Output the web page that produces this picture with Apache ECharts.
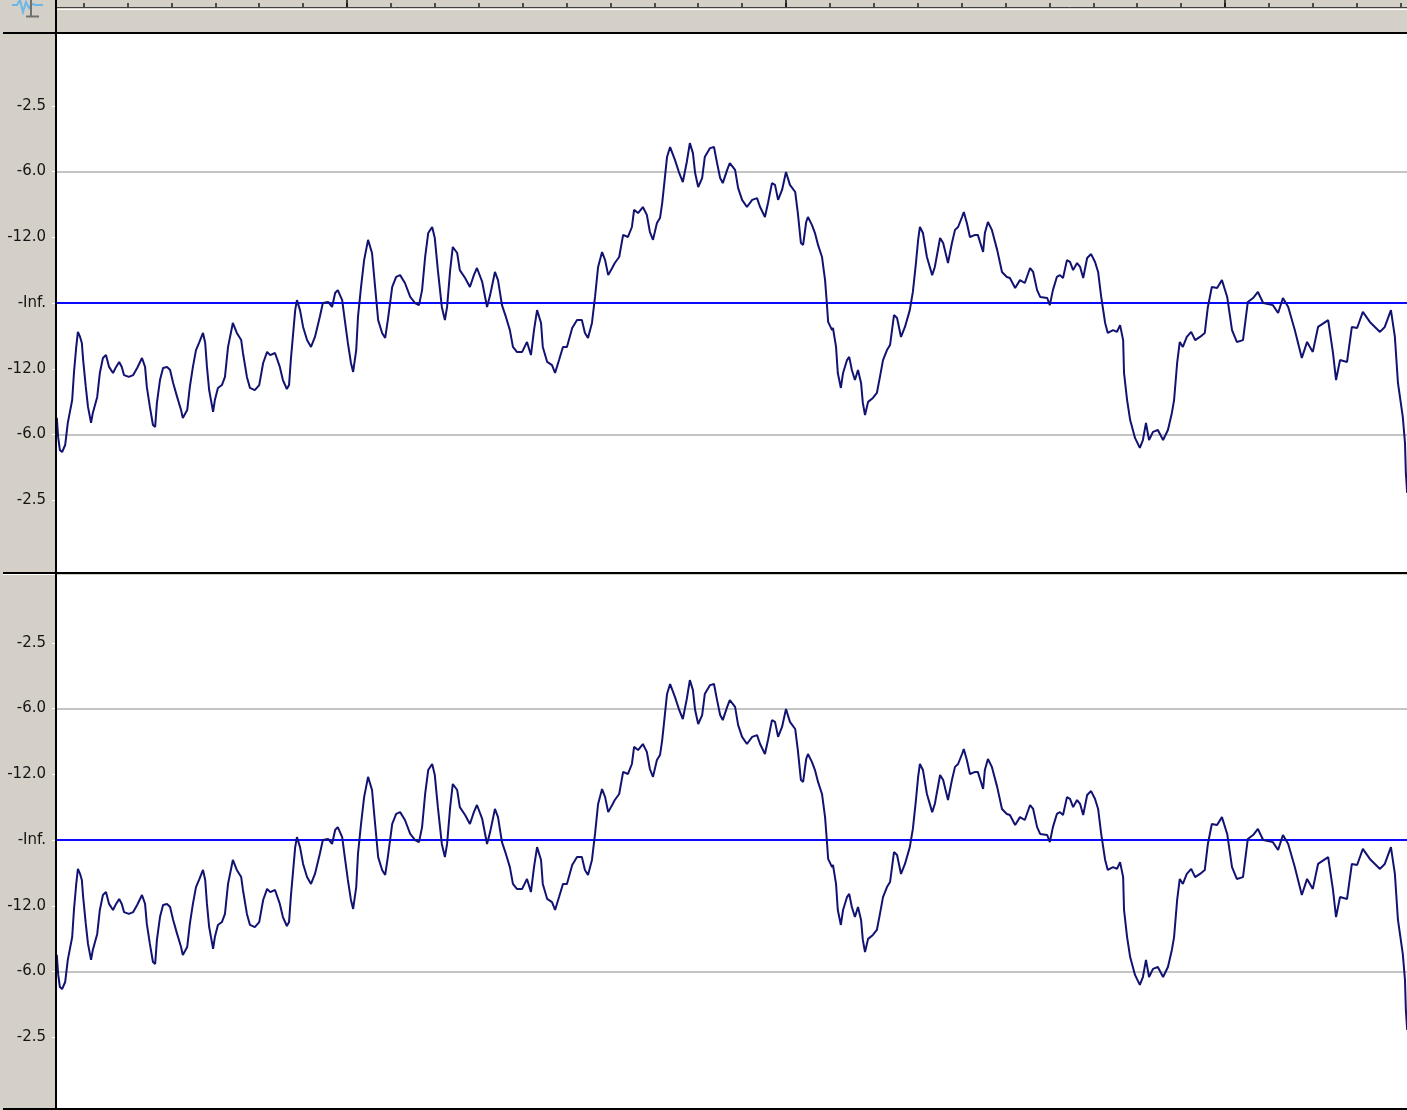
<!DOCTYPE html>
<html><head><meta charset="utf-8">
<script src="https://cdn.jsdelivr.net/npm/echarts@6/dist/echarts.min.js"></script>
<style>html,body{margin:0;padding:0;background:#d4d0c8}#c{width:1407px;height:1110px}</style>
</head><body><div id="c"></div>
<script>
// time (s) of each traced waveform point
const waveTime = [
0.339,0.342,0.346,0.351,0.358,0.364,0.374,0.378,0.383,0.387,0.392,0.396,0.399,0.405,0.410,0.417,0.421,0.431,0.437,0.444,
0.451,0.458,0.467,0.474,0.481,0.487,0.492,0.503,0.513,0.522,0.533,0.540,0.544,0.551,0.558,0.563,0.567,0.574,0.581,0.590,
0.597,0.604,0.613,0.622,0.626,0.636,0.642,0.649,0.656,0.663,0.672,0.677,0.681,0.686,0.695,0.699,0.706,0.715,0.722,0.729,
0.740,0.749,0.759,0.763,0.772,0.779,0.790,0.800,0.809,0.818,0.825,0.836,0.847,0.854,0.863,0.868,0.872,0.877,0.882,0.886,
0.893,0.900,0.909,0.918,0.927,0.938,0.945,0.957,0.966,0.973,0.979,0.989,0.995,1.002,1.009,1.014,1.021,1.025,1.032,1.039,
1.048,1.057,1.064,1.071,1.080,1.087,1.093,1.103,1.112,1.121,1.132,1.144,1.155,1.164,1.171,1.178,1.185,1.194,1.200,1.207,
1.216,1.223,1.228,1.235,1.241,1.251,1.257,1.269,1.280,1.289,1.296,1.308,1.319,1.326,1.337,1.344,1.353,1.362,1.371,1.378,
1.387,1.399,1.410,1.419,1.426,1.433,1.442,1.446,1.456,1.467,1.474,1.483,1.492,1.501,1.513,1.524,1.535,1.542,1.549,1.558,
1.565,1.572,1.581,1.588,1.595,1.604,1.610,1.620,1.629,1.640,1.649,1.654,1.663,1.674,1.683,1.690,1.697,1.706,1.713,1.718,
1.724,1.729,1.736,1.747,1.756,1.765,1.774,1.781,1.788,1.793,1.800,1.809,1.815,1.827,1.836,1.843,1.850,1.856,1.866,1.872,
1.884,1.891,1.900,1.911,1.923,1.934,1.941,1.952,1.959,1.968,1.975,1.982,1.991,2.000,2.009,2.021,2.027,2.034,2.039,2.046,
2.050,2.059,2.066,2.073,2.082,2.089,2.093,2.096,2.105,2.107,2.114,2.118,2.125,2.130,2.139,2.144,2.150,2.157,2.164,2.171,
2.175,2.180,2.187,2.198,2.207,2.214,2.221,2.230,2.237,2.246,2.253,2.262,2.271,2.282,2.289,2.296,2.301,2.305,2.312,2.321,
2.333,2.339,2.351,2.358,2.369,2.378,2.385,2.392,2.401,2.405,2.412,2.419,2.431,2.437,2.449,2.453,2.460,2.469,2.481,2.492,
2.503,2.510,2.522,2.533,2.544,2.556,2.563,2.572,2.579,2.595,2.601,2.608,2.617,2.624,2.631,2.640,2.647,2.654,2.663,2.670,
2.677,2.686,2.695,2.704,2.711,2.718,2.727,2.733,2.745,2.754,2.761,2.768,2.770,2.777,2.784,2.795,2.806,2.813,2.820,2.827,
2.836,2.847,2.859,2.870,2.879,2.884,2.891,2.897,2.904,2.913,2.923,2.932,2.943,2.954,2.961,2.970,2.982,2.993,3.005,3.016,
3.027,3.041,3.052,3.064,3.075,3.087,3.109,3.121,3.132,3.144,3.159,3.175,3.187,3.200,3.212,3.235,3.246,3.253,3.262,3.278,
3.289,3.301,3.314,3.330,3.353,3.364,3.378,3.387,3.394,3.405,3.410,3.412,3.415
];
// linear sample amplitude (-1..1) read at each point
const waveAmp = [
-0.437,-0.510,-0.559,-0.567,-0.540,-0.456,-0.369,-0.266,-0.171,-0.110,-0.129,-0.152,-0.217,-0.319,-0.395,-0.456,-0.418,-0.357,-0.266,-0.209,
-0.198,-0.243,-0.266,-0.243,-0.224,-0.243,-0.274,-0.281,-0.274,-0.247,-0.209,-0.243,-0.319,-0.395,-0.464,-0.471,-0.380,-0.293,-0.247,-0.243,
-0.255,-0.304,-0.357,-0.407,-0.437,-0.407,-0.319,-0.243,-0.179,-0.152,-0.114,-0.152,-0.243,-0.331,-0.414,-0.369,-0.323,-0.312,-0.281,-0.167,
-0.076,-0.114,-0.141,-0.190,-0.281,-0.323,-0.331,-0.312,-0.228,-0.186,-0.198,-0.190,-0.243,-0.293,-0.327,-0.312,-0.217,-0.122,-0.027,0.011,
-0.027,-0.091,-0.141,-0.167,-0.129,-0.053,0.000,0.004,-0.015,0.038,0.049,0.011,-0.065,-0.152,-0.228,-0.262,-0.179,-0.053,0.061,0.163,
0.240,0.190,0.061,-0.065,-0.114,-0.133,-0.065,0.061,0.099,0.106,0.076,0.023,0.000,-0.008,0.049,0.175,0.266,0.289,0.247,0.125,
-0.015,-0.065,-0.015,0.125,0.213,0.190,0.125,0.095,0.061,0.106,0.133,0.080,-0.015,0.030,0.118,0.087,-0.008,-0.053,-0.103,-0.167,
-0.186,-0.186,-0.148,-0.198,-0.103,-0.027,-0.076,-0.167,-0.224,-0.236,-0.266,-0.217,-0.167,-0.167,-0.095,-0.065,-0.065,-0.114,-0.133,-0.076,
0.023,0.137,0.194,0.163,0.106,0.133,0.152,0.175,0.259,0.251,0.289,0.354,0.342,0.365,0.335,0.270,0.240,0.304,0.323,0.380,
0.475,0.555,0.593,0.544,0.498,0.460,0.536,0.608,0.570,0.494,0.441,0.475,0.555,0.589,0.593,0.532,0.475,0.456,0.506,0.532,
0.506,0.437,0.392,0.365,0.392,0.399,0.365,0.327,0.380,0.456,0.449,0.392,0.430,0.498,0.449,0.422,0.342,0.228,0.221,0.308,
0.327,0.297,0.266,0.221,0.175,0.087,0.000,-0.072,-0.103,-0.095,-0.167,-0.266,-0.323,-0.266,-0.217,-0.205,-0.255,-0.293,-0.255,-0.304,
-0.380,-0.426,-0.376,-0.361,-0.342,-0.281,-0.217,-0.179,-0.160,-0.046,-0.057,-0.129,-0.091,-0.027,0.042,0.152,0.240,0.289,0.266,0.175,
0.106,0.137,0.247,0.228,0.152,0.228,0.278,0.289,0.327,0.346,0.304,0.251,0.259,0.259,0.194,0.266,0.308,0.278,0.202,0.118,
0.099,0.095,0.057,0.087,0.076,0.133,0.118,0.049,0.023,0.019,-0.008,0.049,0.099,0.106,0.095,0.163,0.156,0.125,0.152,0.137,
0.095,0.171,0.186,0.156,0.118,0.023,-0.076,-0.114,-0.103,-0.110,-0.084,-0.141,-0.266,-0.369,-0.445,-0.513,-0.551,-0.521,-0.456,-0.521,
-0.490,-0.483,-0.521,-0.483,-0.418,-0.369,-0.228,-0.148,-0.167,-0.129,-0.110,-0.141,-0.129,-0.114,-0.015,0.061,0.057,0.087,0.023,-0.103,
-0.148,-0.141,0.004,0.019,0.042,0.000,-0.008,-0.038,0.019,-0.015,-0.103,-0.209,-0.148,-0.186,-0.091,-0.065,-0.190,-0.293,-0.217,-0.224,
-0.091,-0.095,-0.034,-0.072,-0.110,-0.091,-0.027,-0.129,-0.304,-0.433,-0.532,-0.646,-0.722
];
const timeMin = 0.3394, timeMax = 3.4146;          // visible time window (s)
const rulerMajorTicks = [1, 2, 3];
const rulerMinorTicks = [];
for (let k = 4; k <= 34; k++) rulerMinorTicks.push(+(k / 10).toFixed(1));
const yTickValues = [0.75, 0.5, 0.25, 0, -0.25, -0.5, -0.75];
const yTickLabels = ['-2.5', '-6.0', '-12.0', '-Inf.', '-12.0', '-6.0', '-2.5'];
const greyLineValues = [0.5, -0.5];
const blueLineValues = [0];

const waveData = waveTime.map((t, i) => [t, waveAmp[i]]);

function yAxisFor(grid) {
  return {
    gridIndex: grid, type: 'value', min: -1, max: 1,
    axisLine: { show: false },
    splitLine: { show: false },
    axisTick: { show: true, customValues: yTickValues, length: 5, lineStyle: { color: '#ffffff', width: 1 } },
    axisLabel: {
      show: true, customValues: yTickValues, margin: 11,
      fontFamily: 'DejaVu Sans', fontSize: 15, color: '#141414',
      formatter: v => { const i = yTickValues.findIndex(x => Math.abs(x - v) < 1e-9); return i >= 0 ? yTickLabels[i] : ''; }
    }
  };
}
function waveSeries(xi, yi) {
  return {
    type: 'line', xAxisIndex: xi, yAxisIndex: yi, data: waveData,
    symbol: 'none', z: 3, clip: true, animation: false, silent: true,
    lineStyle: { color: '#121272', width: 2 },
    markLine: {
      silent: true, z: 1, symbol: ['none', 'none'], animation: false,
      label: { show: false },
      lineStyle: { type: 'solid', width: 2 },
      data: greyLineValues.map(v => ({ yAxis: v, lineStyle: { color: '#c4c4c4', type: 'solid', width: 2 } }))
        .concat(blueLineValues.map(v => ({ yAxis: v, lineStyle: { color: '#0a0aff', type: 'solid', width: 2 } })))
    }
  };
}

const chart = echarts.init(document.getElementById('c'), null, { renderer: 'canvas' });
chart.setOption({
  backgroundColor: '#d4d0c8',
  animation: false,
  grid: [
    { left: 57, right: 0, top: 0, height: 7 },
    { left: 57, right: 0, top: 40, height: 526 },
    { left: 57, right: 0, top: 577, height: 526 }
  ],
  xAxis: [
    { gridIndex: 0, type: 'value', min: timeMin, max: timeMax, position: 'bottom',
      axisLine: { show: true, lineStyle: { color: '#404040', width: 1 } },
      axisTick: { show: true, inside: true, length: 4, customValues: rulerMinorTicks, lineStyle: { color: '#202020', width: 1.5 } },
      axisLabel: { show: false }, splitLine: { show: false } },
    { gridIndex: 0, type: 'value', min: timeMin, max: timeMax, position: 'bottom',
      axisLine: { show: false },
      axisTick: { show: true, inside: true, length: 8, customValues: rulerMajorTicks, lineStyle: { color: '#101010', width: 1.5 } },
      axisLabel: { show: false }, splitLine: { show: false } },
    { gridIndex: 1, type: 'value', min: timeMin, max: timeMax, show: false },
    { gridIndex: 2, type: 'value', min: timeMin, max: timeMax, show: false }
  ],
  yAxis: [
    { gridIndex: 0, type: 'value', min: 0, max: 1, show: false },
    yAxisFor(1),
    yAxisFor(2)
  ],
  series: [waveSeries(2, 1), waveSeries(3, 2)],
  graphic: [
    { type: 'rect', z: -10, shape: { x: 57, y: 34, width: 1350, height: 538 }, style: { fill: '#ffffff' } },
    { type: 'rect', z: -10, shape: { x: 57, y: 575, width: 1350, height: 533 }, style: { fill: '#ffffff' } },
    { type: 'line', z: 50, shape: { x1: 57, y1: 9.5, x2: 1407, y2: 9.5 }, style: { stroke: '#ffffff', lineWidth: 1 } },
    { type: 'line', z: 50, shape: { x1: 3, y1: 33, x2: 1407, y2: 33 }, style: { stroke: '#000000', lineWidth: 2 } },
    { type: 'line', z: 50, shape: { x1: 3, y1: 573, x2: 1407, y2: 573 }, style: { stroke: '#000000', lineWidth: 2 } },
    { type: 'line', z: 50, shape: { x1: 3, y1: 574.5, x2: 55, y2: 574.5 }, style: { stroke: '#ffffff', lineWidth: 1 } },
    { type: 'line', z: 50, shape: { x1: 3, y1: 1109, x2: 1407, y2: 1109 }, style: { stroke: '#000000', lineWidth: 2 } },
    { type: 'line', z: 50, shape: { x1: 56, y1: 0, x2: 56, y2: 1110 }, style: { stroke: '#000000', lineWidth: 2 } },
    { type: 'polyline', z: 50, shape: { points: [[12, 5], [17, 5], [20, 0], [23, 12], [26, 2], [29, 8], [32, 4], [36, 5], [43, 5]] }, style: { stroke: '#6ab8e8', lineWidth: 2, fill: null } },
    { type: 'line', z: 51, shape: { x1: 31, y1: 0, x2: 31, y2: 16 }, style: { stroke: '#707070', lineWidth: 2 } },
    { type: 'line', z: 51, shape: { x1: 26, y1: 16.5, x2: 39, y2: 16.5 }, style: { stroke: '#707070', lineWidth: 2 } }
  ]
});
</script></body></html>
